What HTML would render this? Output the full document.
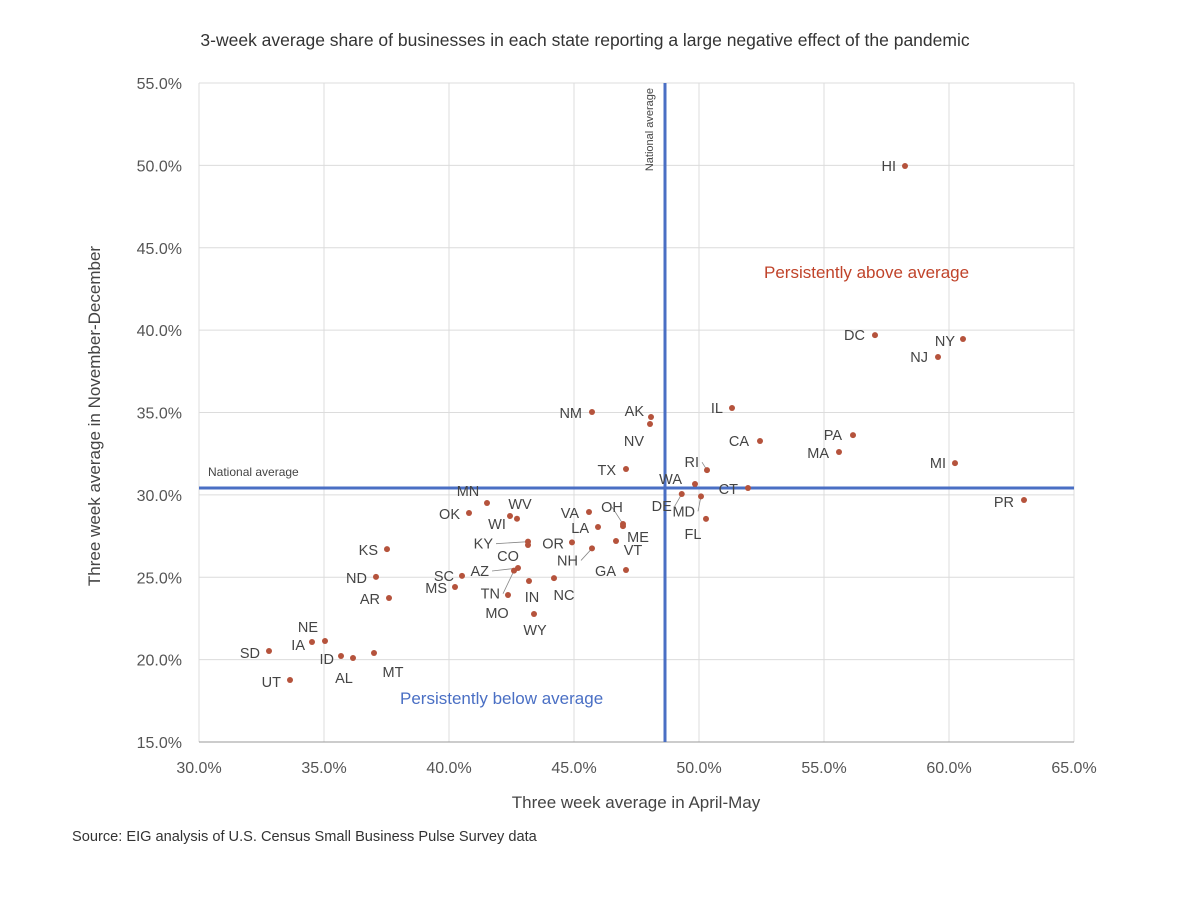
<!DOCTYPE html>
<html><head><meta charset="utf-8"><style>
body{margin:0;background:#fff;}
svg{display:block;font-family:"Liberation Sans",sans-serif;}
</style></head><body>
<svg id="chart" width="1200" height="897" viewBox="0 0 1200 897">
<text x="585" y="46" text-anchor="middle" font-size="17.5" fill="#333">3-week average share of businesses in each state reporting a large negative effect of the pandemic</text>
<g id="grid"></g><g id="ticks"></g><g id="refs"></g><g id="marks"></g>
<text x="636" y="808" text-anchor="middle" font-size="17" fill="#444">Three week average in April-May</text>
<text transform="translate(100,416) rotate(-90)" text-anchor="middle" font-size="17" fill="#444">Three week average in November-December</text>
<text x="72" y="841" font-size="14.6" fill="#333">Source: EIG analysis of U.S. Census Small Business Pulse Survey data</text>
<text x="764" y="278" font-size="17" fill="#c0432a">Persistently above average</text>
<text x="400" y="704" font-size="17" fill="#4a6fc4">Persistently below average</text>
</svg>
<script>
const xTicks=[30,35,40,45,50,55,60,65];
const yTicks=[15,20,25,30,35,40,45,50,55];
const states=["HI","DC","NY","NJ","IL","CA","PA","MA","MI","PR","CT","RI","WA","DE","MD","FL","NM","AK","NV","TX","MN","OK","WV","WI","VA","OH","LA","ME","VT","KY","OR","CO","AZ","TN","NH","GA","SC","MS","IN","NC","MO","WY","KS","ND","AR","NE","IA","SD","ID","AL","MT","UT"];
const aprMay=[58.24,57.04,60.56,59.56,51.32,52.44,56.16,55.6,60.24,63.0,51.96,50.32,49.84,49.31,50.08,50.28,45.72,48.08,48.04,47.08,41.52,40.8,42.72,42.44,45.6,46.96,45.96,46.96,46.68,43.16,44.92,43.16,42.76,42.6,45.72,47.08,40.52,40.24,43.2,44.2,42.36,43.4,37.52,37.08,37.6,35.04,34.52,32.8,35.68,36.16,37.0,33.64];
const novDec=[49.96,39.7,39.46,38.37,35.27,33.27,33.63,32.6,31.93,29.69,30.42,31.5,30.66,30.05,29.91,28.54,35.03,34.73,34.3,31.57,29.51,28.9,28.55,28.72,28.96,28.23,28.05,28.1,27.2,27.16,27.12,26.96,25.56,25.4,26.75,25.44,25.08,24.41,24.77,24.95,23.92,22.77,26.71,25.02,23.74,21.13,21.07,20.52,20.22,20.1,20.4,18.76];
const natAvgX=48.64, natAvgY=30.42;
// label placement (dx, dy, anchor) — styling only
const lab={HI:[-9,5,"end"],DC:[-10,5,"end"],NY:[-8,7,"end"],NJ:[-10,5,"end"],IL:[-9,5,"end"],CA:[-11,5,"end"],PA:[-11,5,"end"],MA:[-10,6,"end"],MI:[-9,5,"end"],PR:[-10,7,"end"],CT:[-10,6,"end"],RI:[-8,-3,"end"],WA:[-13,0,"end"],DE:[-10,17,"end"],MD:[-6,20,"end"],FL:[-13,20,"middle"],NM:[-10,6,"end"],AK:[-7,-1,"end"],NV:[-16,22,"middle"],TX:[-10,6,"end"],MN:[-19,-7,"middle"],OK:[-9,6,"end"],WV:[3,-10,"middle"],WI:[-13,13,"middle"],VA:[-10,6,"end"],OH:[-11,-12,"middle"],LA:[-9,6,"end"],ME:[15,16,"middle"],VT:[17,14,"middle"],KY:[-35,7,"end"],OR:[-8,6,"end"],CO:[-20,16,"middle"],AZ:[-29,8,"end"],TN:[-14,28,"end"],NH:[-14,17,"end"],GA:[-10,6,"end"],SC:[-8,5,"end"],MS:[-8,6,"end"],IN:[3,21,"middle"],NC:[10,22,"middle"],MO:[-11,23,"middle"],WY:[1,21,"middle"],KS:[-9,6,"end"],ND:[-9,6,"end"],AR:[-9,6,"end"],NE:[-17,-9,"middle"],IA:[-7,8,"end"],SD:[-9,7,"end"],ID:[-7,8,"end"],AL:[-9,25,"middle"],MT:[19,24,"middle"],UT:[-9,7,"end"]};
const X0=199,X1=1074,Y0=742,Y1=83;
const xs=v=>X0+(v-30)/(65-30)*(X1-X0);
const ys=v=>Y0-(v-15)/(55-15)*(Y0-Y1);
const NS="http://www.w3.org/2000/svg";
function mk(t,a,p,txt){const e=document.createElementNS(NS,t);for(const k in a)e.setAttribute(k,a[k]);if(txt!==undefined)e.textContent=txt;p.appendChild(e);return e;}
const grid=document.getElementById('grid'),ticks=document.getElementById('ticks'),refs=document.getElementById('refs'),marks=document.getElementById('marks');
xTicks.forEach(t=>{
  const l=mk('line',{x1:xs(t),x2:xs(t),y1:Y1,y2:Y0,stroke:'#dcdcdc','stroke-width':1},grid);
  
  
  const tx=mk('text',{x:xs(t),y:773,'text-anchor':'middle','font-size':16,fill:'#555'},ticks,t.toFixed(1)+'%');
  
  
});
yTicks.forEach(t=>{
  const l=mk('line',{x1:X0,x2:X1,y1:ys(t),y2:ys(t),stroke:t===15?'#999':'#dcdcdc','stroke-width':1},grid);
  
  
  const tx=mk('text',{x:182,y:ys(t)+6,'text-anchor':'end','font-size':16,fill:'#555'},ticks,t.toFixed(1)+'%');
  
  
});
const vl=mk('line',{x1:xs(natAvgX),x2:xs(natAvgX),y1:Y1,y2:Y0,stroke:'#4a6fc4','stroke-width':3},refs);


const hl=mk('line',{x1:X0,x2:X1,y1:ys(natAvgY),y2:ys(natAvgY),stroke:'#4a6fc4','stroke-width':3},refs);


const vt=mk('text',{transform:`translate(${xs(natAvgX)-12},88) rotate(-90)`,'text-anchor':'end','font-size':11,fill:'#444'},refs,'National average');


const htx=mk('text',{x:208,y:ys(natAvgY)-12,'font-size':12,fill:'#444'},refs,'National average');


states.forEach((s,i)=>{
  const cx=xs(aprMay[i]),cy=ys(novDec[i]);
  const L=lab[s]||[-9,5,"end"];
  if(["KY","AZ","TN","RI","DE","MD","OH","NH"].includes(s)){
    const ln=mk('line',{x1:cx,y1:cy,x2:cx+L[0]+(L[2]==="end"?3:0),y2:cy+L[1]-5,stroke:'#888','stroke-width':0.8},marks);
    
    
  }
  const c=mk('circle',{cx:cx,cy:cy,r:3,fill:'#b5533c'},marks);
  
  
  const t=mk('text',{x:cx+L[0],y:cy+L[1],'text-anchor':L[2],'font-size':14.5,fill:'#444'},marks,s);
  
  
});
</script>
</body></html>
